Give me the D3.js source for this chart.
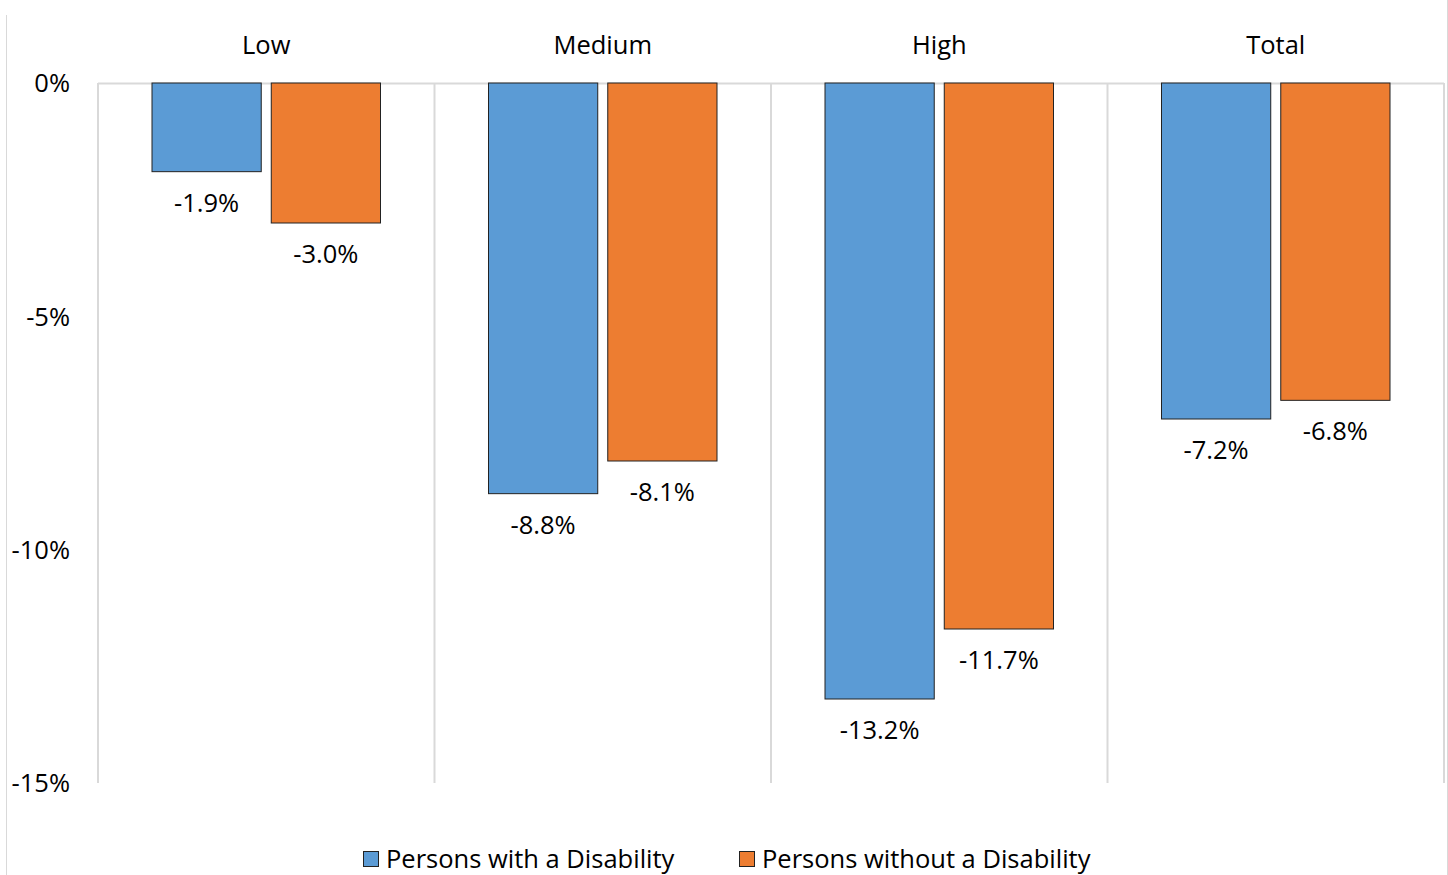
<!DOCTYPE html>
<html><head><meta charset="utf-8">
<script src="https://cdn.jsdelivr.net/npm/d3@7"></script>
<style>
html,body{margin:0;padding:0;background:#fff;}
svg{display:block;font-family:"Open Sans", sans-serif;}
</style></head>
<body>
<svg id="chart" width="1448" height="875"></svg>
<script>
const categories = ["Low", "Medium", "High", "Total"];
const seriesNames = ["Persons with a Disability", "Persons without a Disability"];
const withDisability = [-1.9, -8.8, -13.2, -7.2];
const withoutDisability = [-3.0, -8.1, -11.7, -6.8];
const yTicks = [0, -5, -10, -15];
const colors = ["#5B9BD5", "#ED7D31"];
const FONT = "'Open Sans', sans-serif";
const FS = 25.5;

const svg = d3.select("#chart");
const W = 1448, H = 875;
const plot = {left: 98, right: 1444, top: 83, bottom: 783};

// outer chart border
svg.append("line").attr("x1", 6.5).attr("x2", 6.5).attr("y1", 15).attr("y2", H).attr("stroke", "#d9d9d9").attr("stroke-width", 1);
svg.append("line").attr("x1", 1447.5).attr("x2", 1447.5).attr("y1", 0).attr("y2", H).attr("stroke", "#d9d9d9").attr("stroke-width", 1);

const y = d3.scaleLinear().domain([0, -15]).range([plot.top, plot.bottom]);
const xPanel = d3.scaleBand().domain(categories).range([plot.left, plot.right]).paddingInner(0).paddingOuter(0);
const xInner = d3.scaleBand().domain([0, 1]).range([54, xPanel.bandwidth() - 54]).paddingInner(10 / 119);

// gridlines: top horizontal and panel separators
svg.append("line").attr("x1", plot.left).attr("x2", plot.right).attr("y1", plot.top + 0.5).attr("y2", plot.top + 0.5)
  .attr("stroke", "#d9d9d9").attr("stroke-width", 2);
const seps = categories.map(c => xPanel(c)).concat([plot.right]);
svg.selectAll(".sep").data(seps).join("line").attr("class", "sep")
  .attr("x1", d => d).attr("x2", d => d).attr("y1", plot.top).attr("y2", plot.bottom)
  .attr("stroke", "#d9d9d9").attr("stroke-width", 2);

// y axis labels
const yAxis = d3.axisLeft(y).tickValues(yTicks).tickFormat(d => d + "%").tickSize(0).tickPadding(0);
const yg = svg.append("g").attr("transform", `translate(70,0)`).call(yAxis);
yg.select(".domain").remove();
yg.selectAll("text").attr("font-size", FS).attr("fill", "#000").attr("font-family", FONT).attr("dy", "0.35em");

// panel headers
const xAxis = d3.axisTop(xPanel).tickSize(0).tickPadding(0);
const xg = svg.append("g").attr("transform", `translate(0,45)`).call(xAxis);
xg.select(".domain").remove();
xg.selectAll("text").attr("font-size", FS).attr("fill", "#000").attr("font-family", FONT).attr("dy", "0.35em");

// bars
const data = [];
categories.forEach((c, i) => {
  data.push({cat: c, s: 0, v: withDisability[i]});
  data.push({cat: c, s: 1, v: withoutDisability[i]});
});
const bars = svg.append("g");
bars.selectAll("rect").data(data).join("rect")
  .attr("x", d => xPanel(d.cat) + xInner(d.s))
  .attr("y", y(0))
  .attr("width", xInner.bandwidth())
  .attr("height", d => y(d.v) - y(0))
  .attr("fill", d => colors[d.s])
  .attr("stroke", "#222").attr("stroke-width", 1);

// data labels
svg.append("g").selectAll("text").data(data).join("text")
  .attr("x", d => xPanel(d.cat) + xInner(d.s) + xInner.bandwidth() / 2)
  .attr("y", d => y(d.v) + 31)
  .attr("dy", "0.35em")
  .attr("text-anchor", "middle")
  .attr("font-size", FS).attr("font-family", FONT).attr("fill", "#000")
  .text(d => d.v.toFixed(1) + "%");

// legend
const legendX = [363, 739];
const lg = svg.append("g");
seriesNames.forEach((n, i) => {
  lg.append("rect").attr("x", legendX[i] + 0.5).attr("y", 851.5).attr("width", 15).attr("height", 15)
    .attr("fill", colors[i]).attr("stroke", "#222").attr("stroke-width", 1);
  lg.append("text").attr("x", legendX[i] + 23).attr("y", 859).attr("dy", "0.35em")
    .attr("font-size", FS).attr("font-family", FONT).attr("fill", "#000").text(n);
});
</script>
</body></html>
